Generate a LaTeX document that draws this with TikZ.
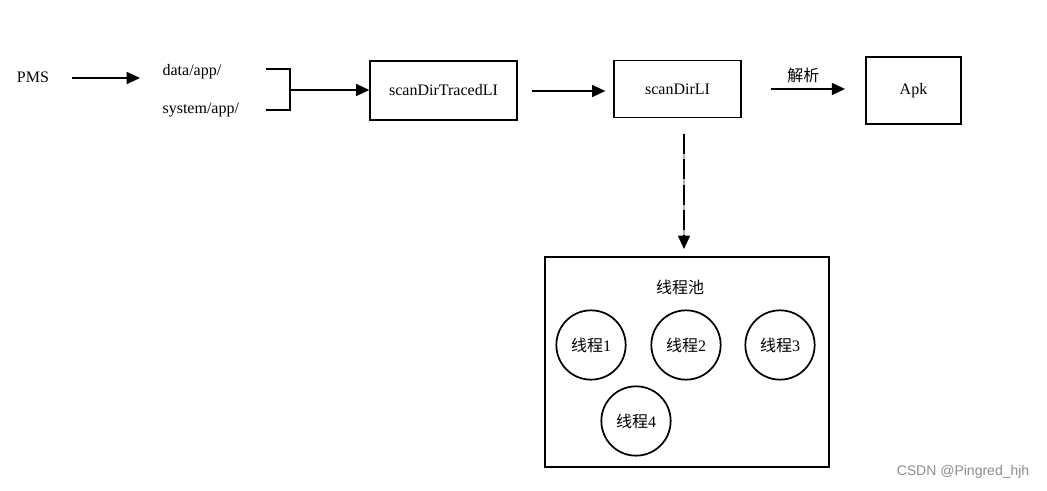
\documentclass[tikz,border=0pt]{standalone}
\usepackage{fontspec}
\setmainfont{Liberation Serif}
\newfontfamily\cjk{Noto Sans CJK SC}
\newfontfamily\wmfont{Liberation Sans}
\usetikzlibrary{arrows.meta, positioning}
\tikzset{
    box/.style={draw=black, line width=1.2pt, fill=white, minimum width=110pt, minimum height=44pt, align=center, font=\fontsize{12}{14}\selectfont},
    pool/.style={draw=black, line width=1.6pt, minimum width=213pt, minimum height=157pt},
    worker/.style={draw=black, line width=1.3pt, circle, minimum size=52pt, inner sep=0pt, font=\fontsize{12}{14}\selectfont},
    plain/.style={inner sep=1pt, font=\fontsize{12}{14}\selectfont},
    arrow/.style={-{Triangle[length=10pt,width=9pt]}, line width=1.3pt},
    dasharrow/.style={-{Triangle[length=10pt,width=9pt]}, line width=1.3pt, dash pattern=on 15pt off 4pt}
}

\begin{document}
\begin{tikzpicture}[x=0.75pt, y=-0.75pt]
        \useasboundingbox (0,0) rectangle (1047,491);
        \node [plain] (pms) at (33,77) {PMS};
        \node [plain, anchor=west] (data) at (161,72) {data/app/};
        \node [plain, anchor=west] (sys) at (161,110) {system/app/};
        \coordinate (pmsstart) at (72,78);
        \coordinate (pmsend) at (140,78);
        \draw [arrow] (pmsstart) -- (pmsend);
        % bracket joining the two folders
        \coordinate (bt) at (290,69);
        \coordinate (bb) at (290,110);
        \coordinate (bm) at (290,90);
        \draw [line width=1.3pt] (266,69) -- (bt) -- (bb) -- (266,110);
        \node [box, minimum width=110pt, minimum height=44pt] (traced) at (443.5,90.5) {scanDirTracedLI};
        \draw [arrow] (bm) -- (traced.west |- bm);
        \node [box, minimum width=95pt, minimum height=43pt] (scan) at (677.5,89) {scanDirLI};
        \coordinate (mid) at (532,91);
        \draw [arrow, shorten <=11pt, shorten >=6pt] (traced.east |- mid) -- (scan.west |- mid);
        \node [box, line width=1.6pt, minimum width=71pt, minimum height=50pt] (apk) at (913.5,90.5) {Apk};
        \draw [arrow, shorten <=22pt, shorten >=15pt] (scan.east) -- node [plain, above=3pt, font=\cjk\fontsize{12}{14}\selectfont] (parse) {解析} (apk.west |- scan.east);
        \node [pool] (threads) at (687,362) {};
        \node [plain, font=\cjk\fontsize{12}{14}\selectfont] (title) at (680,287) {线程池};
        \coordinate (dstart) at (684,134);
        \coordinate (dend) at (684,249);
        \draw [line width=1.2pt, black!30, shorten >=8pt] (dstart) -- (dend);
        \draw [dasharrow] (dstart) -- (dend);
        \node [worker] (t1) at (591,345) {{\cjk 线程}1};
        \node [worker] (t2) at (686,345) {{\cjk 线程}2};
        \node [worker] (t3) at (780,345) {{\cjk 线程}3};
        \node [worker] (t4) at (636,421) {{\cjk 线程}4};
        \node [anchor=east, text=black!45, font=\wmfont\fontsize{10.5}{12}\selectfont] (mark) at (1034,472) {CSDN @Pingred\_hjh};
    \end{tikzpicture}
\end{document}
